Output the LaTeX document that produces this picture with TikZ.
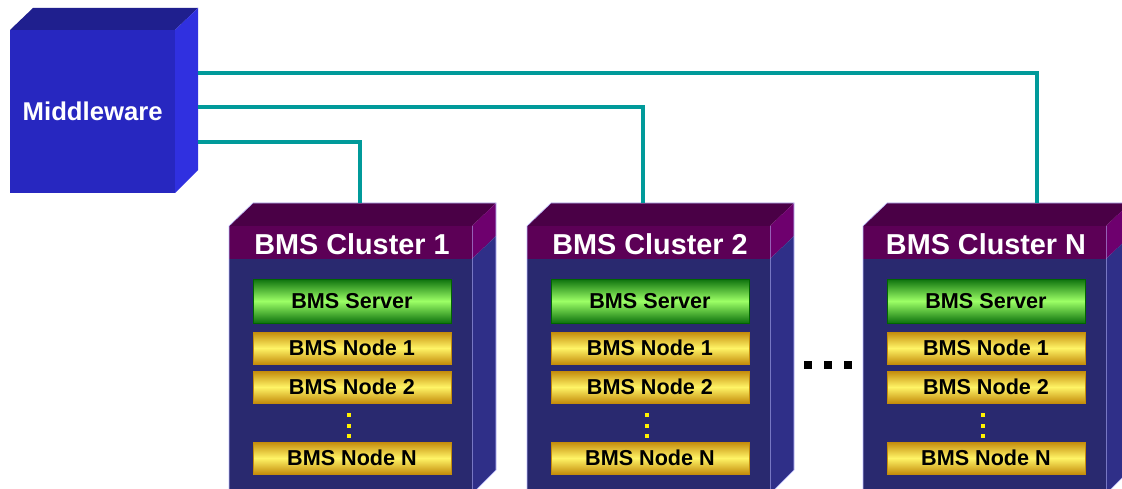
\documentclass[tikz,border=0pt]{standalone}
\usepackage{fontspec}
\setmainfont{Liberation Sans}
\begin{document}
\begin{tikzpicture}[x=1pt,y=-1pt,
  edge/.style={draw=black!0!blue!25!white,line width=0.6pt},
  conn/.style={draw=teal1,line width=4pt},
  srv/.style={draw=green!40!black,line width=0.5pt,shading=axis,top color=srvdark,bottom color=srvdark,middle color=srvlight,minimum width=198pt,minimum height=44pt,inner sep=0pt,font=\fontsize{21.6}{21.6}\selectfont\bfseries,text=black},
  nd/.style={draw=gold1,line width=0.5pt,shading=axis,top color=gold1,bottom color=gold1,middle color=gold2,minimum width=198pt,minimum height=32pt,inner sep=0pt,font=\fontsize{21.6}{21.6}\selectfont\bfseries,text=black},
  ydot/.style={fill=yellow,inner sep=0pt,minimum size=4pt},
  bdot/.style={fill=black,inner sep=0pt,minimum size=8pt},
  title/.style={text=white,font=\fontsize{28.8}{28.8}\selectfont\bfseries,inner sep=0pt}
]
\definecolor{teal1}{HTML}{009A9A}
\definecolor{mwfront}{HTML}{2727C0}
\definecolor{mwtop}{HTML}{1F1F8E}
\definecolor{mwright}{HTML}{3030E0}
\definecolor{clfront}{HTML}{29296F}
\definecolor{clright}{HTML}{2F2F88}
\definecolor{cltop}{HTML}{4A0046}
\definecolor{clhead}{HTML}{5C0056}
\definecolor{clheadr}{HTML}{6E006E}
\definecolor{srvdark}{HTML}{0E720E}
\definecolor{srvlight}{HTML}{9CFF66}
\definecolor{gold1}{HTML}{C48C0C}
\definecolor{gold2}{HTML}{FFF466}
\useasboundingbox (0,0) rectangle (1122,489);
\clip (0,0) rectangle (1122,489);
\fill[white] (0,0) rectangle (1122,489);

% Middleware cube
\fill[mwtop] (10,30) -- (33,8) -- (198,8) -- (175,30) -- cycle;
\fill[mwright] (175,30) -- (198,8) -- (198,170) -- (175,193) -- cycle;
\node[fill=mwfront,minimum width=165pt,minimum height=163pt,inner sep=0pt,anchor=north west,
  text=white,font=\fontsize{25.7}{25.7}\selectfont\bfseries] (mw) at (10,30) {Middleware};
\coordinate (mwa) at (198,142);
\coordinate (mwb) at (198,107);
\coordinate (mwc) at (198,73);

\newcommand{\bmscluster}[3]{%
  \begin{scope}[shift={(#2,0)}]
    \fill[clfront] (0,259) rectangle (243,500);
    \fill[clhead] (0,226) rectangle (243,259);
    \fill[cltop] (0,226) -- (24,203) -- (267,203) -- (243,226) -- cycle;
    \fill[clheadr] (243,226) -- (267,203) -- (267,236) -- (243,259) -- cycle;
    \fill[clright] (243,259) -- (267,236) -- (267,470) -- (243,494) -- cycle;
    \draw[edge] (0,500) -- (0,226) -- (24,203) -- (267,203) -- (267,470) -- (243,494);
    \draw[edge,opacity=0.5] (243,226) -- (243,500);
    \node[title] (#1t) at (123,244) {BMS Cluster #3};
    \coordinate (#1top) at (0,203);
    \node[srv] (#1s) at (123,301) {BMS Server};
    \node[nd] (#1n1) at (123,348) {BMS Node 1};
    \node[nd] (#1n2) at (123,387) {BMS Node 2};
    \node[ydot] (#1d1) at (120,415) {};
    \node[ydot] (#1d2) at (120,426) {};
    \node[ydot] (#1d3) at (120,436) {};
    \node[nd] (#1nn) at (123,458) {BMS Node N};
  \end{scope}}

\bmscluster{ca}{229}{1}
\bmscluster{cb}{527}{2}
\bmscluster{cc}{863}{N}

\node[bdot] (e1) at (808,365) {};
\node[bdot] (e2) at (828,365) {};
\node[bdot] (e3) at (848,365) {};

\draw[conn] (mwa) -| ([xshift=131pt]catop);
\draw[conn] (mwb) -| ([xshift=116pt]cbtop);
\draw[conn] (mwc) -| ([xshift=174pt]cctop);
\end{tikzpicture}
\end{document}
